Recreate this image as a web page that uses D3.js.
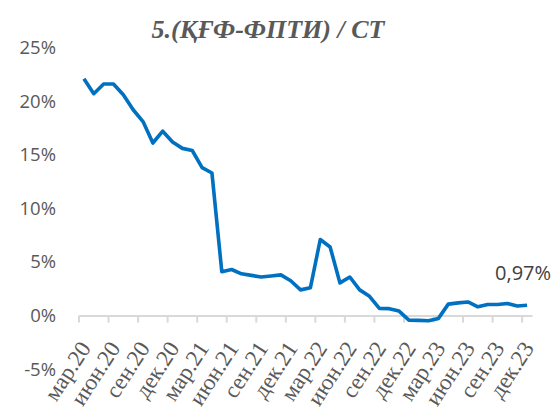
<!DOCTYPE html>
<html>
<head>
<meta charset="utf-8">
<script src="https://cdn.jsdelivr.net/npm/d3@7"></script>
<style>
  body { margin: 0; background: #fff; }
  svg { display: block; }
</style>
</head>
<body>
<svg id="chart" width="555" height="408"></svg>
<script>
// monthly categories, мар.20 .. дек.23
const months = ['янв.', 'фев.', 'мар.', 'апр.', 'май.', 'июн.', 'июл.', 'авг.', 'сен.', 'окт.', 'ноя.', 'дек.'];
const years = ['20', '21', '22', '23'];
const categories = [];
years.forEach(y => months.forEach(m => categories.push(m + y)));
categories.splice(0, 2); // series starts in March 2020

// value in percent
const values = [
  22.1, 20.7, 21.6, 21.6, 20.6, 19.2, 18.1, 16.1, 17.2, 16.2,
  15.6, 15.4, 13.8, 13.3, 4.1, 4.3, 3.9, 3.75, 3.6, 3.7,
  3.8, 3.25, 2.4, 2.6, 7.1, 6.4, 3.05, 3.6, 2.4, 1.8,
  0.67, 0.65, 0.42, -0.42, -0.45, -0.48, -0.26, 1.07, 1.19, 1.27,
  0.82, 1.04, 1.04, 1.13, 0.9, 0.97
];

const xTickLabels = ['мар.20', 'июн.20', 'сен.20', 'дек.20', 'мар.21', 'июн.21', 'сен.21', 'дек.21',
  'мар.22', 'июн.22', 'сен.22', 'дек.22', 'мар.23', 'июн.23', 'сен.23', 'дек.23'];
const yTicks = [-5, 0, 5, 10, 15, 20, 25];
const lastLabel = '0,97%';
const title = '5.(ҚҒФ-ФПТИ) / СТ';

const svg = d3.select('#chart');

const x = d3.scaleBand()
  .domain(categories)
  .range([79, 532])
  .padding(0);

const y = d3.scaleLinear()
  .domain([-5, 25])
  .range([369.2, 47.6]);

const cx = d => x(d) + x.bandwidth() / 2;

// title
svg.append('text')
  .attr('x', 268)
  .attr('y', 38)
  .attr('text-anchor', 'middle')
  .style('font-family', '"Liberation Serif", serif')
  .style('font-weight', 'bold')
  .style('font-style', 'italic')
  .style('font-size', '26px')
  .style('fill', '#595959')
  .text(title);

// y axis, labels only
const yAxis = svg.append('g')
  .attr('transform', 'translate(56,0)')
  .call(d3.axisLeft(y)
    .tickValues(yTicks)
    .tickSize(0)
    .tickPadding(0)
    .tickFormat(d => d + '%'));
yAxis.select('.domain').remove();
yAxis.selectAll('text')
  .style('font-family', '"Open Sans", sans-serif')
  .style('font-size', '18.5px')
  .style('fill', '#595959');

// x axis at zero
const xAxis = svg.append('g')
  .attr('transform', `translate(0,${y(0)})`)
  .call(d3.axisBottom(x)
    .tickValues(xTickLabels)
    .tickSize(0)
    .tickSizeOuter(0));
xAxis.select('.domain')
  .attr('stroke', '#d9d9d9')
  .attr('stroke-width', 2);
xAxis.selectAll('.tick line')
  .attr('x1', -x.bandwidth() / 2)
  .attr('x2', -x.bandwidth() / 2)
  .attr('y2', 7)
  .attr('stroke', '#d9d9d9')
  .attr('stroke-width', 2);
xAxis.selectAll('.tick text')
  .attr('x', 0)
  .attr('y', 0)
  .attr('dy', '0.35em')
  .attr('text-anchor', 'end')
  .attr('transform', 'translate(1,28) rotate(-57)')
  .style('font-family', '"Liberation Serif", serif')
  .style('font-size', '23px')
  .style('fill', '#595959');

// series line
const line = d3.line()
  .x((d, i) => cx(categories[i]))
  .y(d => y(d));

svg.append('path')
  .datum(values)
  .attr('d', line)
  .attr('fill', 'none')
  .attr('stroke', '#0070c0')
  .attr('stroke-width', 3.6)
  .attr('stroke-linejoin', 'round');

// label on the last point
const lastIdx = values.length - 1;
svg.append('text')
  .attr('x', cx(categories[lastIdx]) + 24)
  .attr('y', y(values[lastIdx]) - 25)
  .attr('text-anchor', 'end')
  .style('font-family', '"Open Sans", sans-serif')
  .style('font-size', '20px')
  .style('fill', '#404040')
  .text(lastLabel);
</script>
</body>
</html>
